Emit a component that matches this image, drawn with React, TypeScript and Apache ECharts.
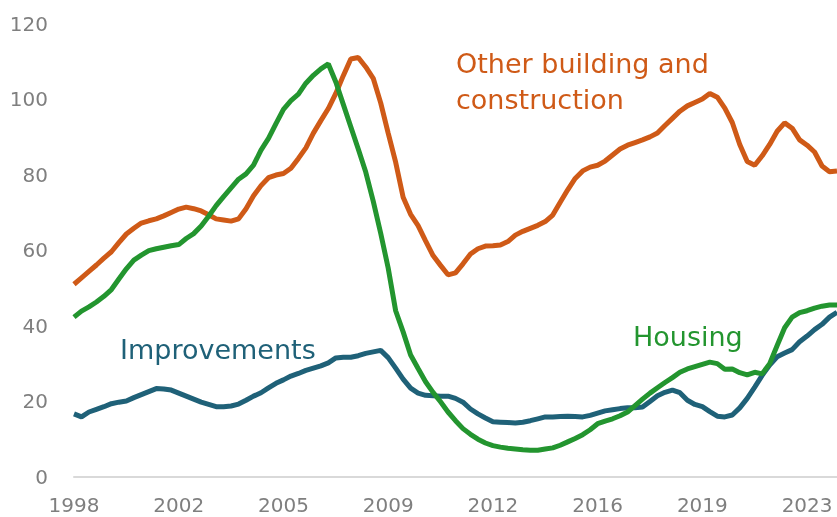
import React, { useEffect, useRef } from "react";
import * as echarts from "echarts";

// Quarterly index values, 1998 Q1 onwards
const tickLabels = ["1998", "2002", "2005", "2009", "2012", "2016", "2019", "2023"];

const otherBuilding = [
  51, 52.7, 54.4, 56.1, 57.9, 59.6, 62, 64.3, 65.8, 67.2,
  67.8, 68.3, 69.1, 70, 70.9, 71.4, 71, 70.4, 69.4, 68.3,
  68, 67.7, 68.3, 71, 74.4, 77.1, 79.2, 79.9, 80.3, 81.7,
  84.3, 87.1, 91, 94.3, 97.5, 101.5, 106.2, 110.6, 111, 108.5,
  105.5, 99, 91, 83.3, 74, 69.5, 66.5, 62.5, 58.6, 56,
  53.5, 54, 56.4, 59, 60.4, 61.1, 61.2, 61.4, 62.3, 64,
  65, 65.8, 66.6, 67.6, 69.3, 72.7, 76, 79, 81, 82,
  82.5, 83.6, 85.2, 86.8, 87.8, 88.5, 89.2, 90, 91, 93,
  94.9, 96.8, 98.2, 99.1, 100, 101.5, 100.5, 97.6, 93.8, 88,
  83.5, 82.5, 85, 88, 91.5, 93.7, 92.3, 89.2, 87.8, 86,
  82.3, 80.8, 81,
];

const housing = [
  42.3, 43.9, 45, 46.3, 47.8, 49.6, 52.4, 55.1, 57.4, 58.7,
  59.9, 60.4, 60.8, 61.2, 61.5, 63.1, 64.4, 66.4, 69, 71.8,
  74.2, 76.5, 78.8, 80.2, 82.5, 86.5, 89.6, 93.5, 97.3, 99.6,
  101.3, 104.2, 106.3, 108, 109.3, 104.5, 98.6, 92.7, 86.8, 80.7,
  73, 64.5, 55.3, 44, 38.4, 32.3, 28.7, 25.2, 22.4, 19.9,
  17.2, 14.9, 12.8, 11.3, 10, 9, 8.3, 7.9, 7.6, 7.4,
  7.2, 7.1, 7.1, 7.4, 7.7, 8.4, 9.3, 10.2, 11.2, 12.5,
  14.1, 14.8, 15.4, 16.2, 17.2, 18.9, 20.6, 22.2, 23.6, 25,
  26.3, 27.7, 28.6, 29.2, 29.8, 30.4, 30, 28.5, 28.6, 27.6,
  27, 27.7, 27.3, 30, 34.8, 39.5, 42.3, 43.5, 44, 44.7,
  45.2, 45.5, 45.5,
];

const improvements = [
  16.7, 15.9, 17.2, 17.9, 18.6, 19.4, 19.8, 20.1, 21, 21.8,
  22.6, 23.4, 23.3, 23, 22.2, 21.4, 20.6, 19.8, 19.2, 18.6,
  18.6, 18.8, 19.3, 20.3, 21.4, 22.3, 23.6, 24.8, 25.7, 26.7,
  27.4, 28.2, 28.8, 29.4, 30.2, 31.5, 31.7, 31.7, 32.1, 32.7,
  33.1, 33.5, 31.6, 28.8, 25.9, 23.5, 22.2, 21.6, 21.5, 21.4,
  21.4, 20.8, 19.8, 18, 16.7, 15.6, 14.6, 14.5, 14.4, 14.3,
  14.5, 14.9, 15.4, 15.9, 15.9, 16, 16.1, 16, 15.9, 16.3,
  16.9, 17.5, 17.8, 18.1, 18.3, 18.3, 18.5, 20, 21.5, 22.4,
  23, 22.3, 20.3, 19.2, 18.6, 17.3, 16.1, 15.9, 16.4, 18.3,
  20.8, 23.8, 26.9, 29.6, 31.8, 32.8, 33.7, 35.8, 37.3, 39,
  40.4, 42.3, 43.6,
];

const categories: string[] = [];
for (let i = 0; i < otherBuilding.length; i++) {
  categories.push(`${1998 + Math.floor(i / 4)} Q${(i % 4) + 1}`);
}

const FONT = "'DejaVu Sans', sans-serif";
const ORANGE = "#CF5A17";
const GREEN = "#23952F";
const TEAL = "#1F6178";

export default function App() {
  const ref = useRef<HTMLDivElement>(null);
  useEffect(() => {
    if (!ref.current) return;
    const chart = echarts.init(ref.current, undefined, { renderer: "svg" });
    chart.setOption({
      animation: false,
      grid: { left: 74, top: 23.5, width: 765, height: 453.5, containLabel: false },
      xAxis: {
        type: "category",
        data: categories,
        boundaryGap: false,
        axisLine: { show: true, lineStyle: { color: "#d9d9d9", width: 2 } },
        axisTick: { show: false },
        axisLabel: {
          interval: 13,
          color: "#7f7f7f",
          fontSize: 20,
          fontFamily: FONT,
          margin: 18,
          formatter: (_v: string, idx: number) => tickLabels[Math.round(idx / 14)] ?? "",
        },
        splitLine: { show: false },
      },
      yAxis: {
        type: "value",
        min: 0,
        max: 120,
        interval: 20,
        axisLine: { show: false },
        axisTick: { show: false },
        splitLine: { show: false },
        axisLabel: { color: "#7f7f7f", fontSize: 20, fontFamily: FONT, margin: 26 },
      },
      series: [
        {
          name: "Other building and construction",
          type: "line",
          data: otherBuilding,
          showSymbol: false,
          lineStyle: { color: ORANGE, width: 5 },
          itemStyle: { color: ORANGE },
        },
        {
          name: "Improvements",
          type: "line",
          data: improvements,
          showSymbol: false,
          lineStyle: { color: TEAL, width: 5 },
          itemStyle: { color: TEAL },
        },
        {
          name: "Housing",
          type: "line",
          data: housing,
          showSymbol: false,
          lineStyle: { color: GREEN, width: 5 },
          itemStyle: { color: GREEN },
        },
      ],
      graphic: [
        {
          type: "text",
          left: 456,
          top: 50,
          style: { text: "Other building and", fill: ORANGE, font: `27px ${FONT}` },
        },
        {
          type: "text",
          left: 456,
          top: 86,
          style: { text: "construction", fill: ORANGE, font: `27px ${FONT}` },
        },
        {
          type: "text",
          left: 120,
          top: 336,
          style: { text: "Improvements", fill: TEAL, font: `27px ${FONT}` },
        },
        {
          type: "text",
          left: 633,
          top: 323,
          style: { text: "Housing", fill: GREEN, font: `27px ${FONT}` },
        },
      ],
    });
    return () => chart.dispose();
  }, []);
  return (
    <div
      ref={ref}
      style={{ position: "fixed", left: 0, top: 0, width: 837, height: 517 }}
    />
  );
}
